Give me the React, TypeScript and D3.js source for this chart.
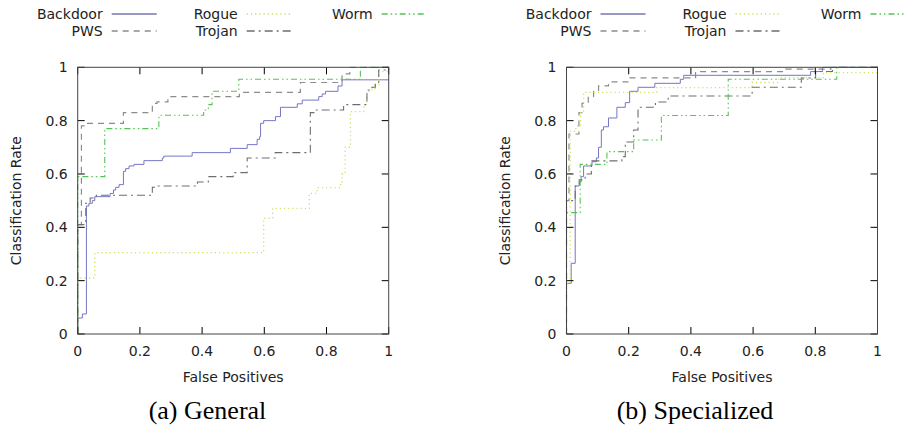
import React from 'react';
import * as d3 from 'd3';

type Pt = [number, number];

const seriesNames = ['Backdoor', 'PWS', 'Rogue', 'Trojan', 'Worm'];
const ticks = [0, 0.2, 0.4, 0.6, 0.8, 1];
const tickLabels = ['0', '0.2', '0.4', '0.6', '0.8', '1'];

// (a) General
const generalBackdoor: Pt[] = [[0, 0], [0, 0.06], [0.015, 0.075], [0.028, 0.48], [0.036, 0.49], [0.047, 0.5], [0.055, 0.515], [0.104, 0.527], [0.115, 0.54], [0.122, 0.55], [0.133, 0.56], [0.147, 0.61], [0.154, 0.62], [0.165, 0.63], [0.181, 0.636], [0.213, 0.65], [0.272, 0.66], [0.277, 0.667], [0.368, 0.68], [0.491, 0.696], [0.545, 0.71], [0.577, 0.73], [0.585, 0.74], [0.588, 0.79], [0.598, 0.8], [0.636, 0.815], [0.652, 0.85], [0.706, 0.863], [0.722, 0.877], [0.775, 0.89], [0.786, 0.9], [0.797, 0.91], [0.837, 0.93], [0.85, 0.953], [1, 0.953]];
const generalPWS: Pt[] = [[0, 0], [0, 0.41], [0.012, 0.78], [0.026, 0.79], [0.147, 0.83], [0.24, 0.865], [0.255, 0.87], [0.29, 0.89], [0.52, 0.906], [0.716, 0.943], [0.85, 0.975], [0.875, 1.0], [1, 1.0]];
const generalRogue: Pt[] = [[0, 0], [0, 0.21], [0.055, 0.305], [0.598, 0.434], [0.627, 0.471], [0.745, 0.5275], [0.77, 0.549], [0.845, 0.56], [0.85, 0.6], [0.86, 0.7], [0.877, 0.834], [0.92, 0.86], [0.93, 0.91], [0.946, 0.92], [0.957, 0.935], [0.968, 0.984], [1, 1.0]];
const generalTrojan: Pt[] = [[0, 0], [0, 0.41], [0.026, 0.49], [0.04, 0.51], [0.06, 0.52], [0.24, 0.55], [0.25, 0.555], [0.385, 0.57], [0.42, 0.59], [0.5, 0.605], [0.545, 0.66], [0.635, 0.68], [0.748, 0.83], [0.76, 0.84], [0.855, 0.86], [0.93, 0.915], [0.946, 0.925], [0.957, 0.94], [0.968, 0.99], [0.995, 1.0], [1, 1.0]];
const generalWorm: Pt[] = [[0, 0], [0, 0.59], [0.087, 0.77], [0.261, 0.82], [0.405, 0.84], [0.42, 0.86], [0.432, 0.91], [0.518, 0.955], [0.909, 1.0], [1, 1.0]];

// (b) Specialized
const specBackdoor: Pt[] = [[0, 0], [0, 0.19], [0.015, 0.265], [0.028, 0.555], [0.041, 0.57], [0.047, 0.59], [0.055, 0.63], [0.082, 0.646], [0.096, 0.66], [0.103, 0.7], [0.112, 0.765], [0.119, 0.777], [0.135, 0.81], [0.162, 0.85], [0.189, 0.8675], [0.203, 0.91], [0.23, 0.925], [0.284, 0.94], [0.366, 0.955], [0.377, 0.97], [0.785, 0.984], [0.823, 1.0], [1, 1.0]];
const specPWS: Pt[] = [[0, 0], [0, 0.5], [0.008, 0.75], [0.04, 0.83], [0.05, 0.865], [0.07, 0.89], [0.087, 0.91], [0.103, 0.93], [0.135, 0.945], [0.2, 0.96], [0.415, 0.984], [0.705, 0.993], [0.85, 1.0], [1, 1.0]];
const specRogue: Pt[] = [[0, 0], [0, 0.19], [0.012, 0.76], [0.03, 0.78], [0.045, 0.83], [0.055, 0.906], [0.29, 0.924], [0.597, 0.943], [0.681, 0.961], [0.826, 0.98], [1, 0.98]];
const specTrojan: Pt[] = [[0, 0], [0, 0.5], [0.028, 0.555], [0.041, 0.578], [0.06, 0.6], [0.08, 0.649], [0.178, 0.665], [0.189, 0.72], [0.216, 0.765], [0.23, 0.85], [0.286, 0.87], [0.327, 0.8925], [0.597, 0.925], [0.755, 0.96], [0.801, 0.984], [0.855, 1.0], [1, 1.0]];
const specWorm: Pt[] = [[0, 0], [0, 0.455], [0.044, 0.636], [0.13, 0.684], [0.216, 0.7275], [0.305, 0.819], [0.52, 0.955], [0.869, 1.0], [1, 1.0]];

const styles = [
  { plot: '#7676c6', legend: '#33338f', dash: null, w: 1 },
  { plot: '#8c8c8c', legend: '#8c8c8c', dash: '6,5', w: 1.2 },
  { plot: '#d2e060', legend: '#cfdc5a', dash: '1.2,3', w: 1.3 },
  { plot: '#6e6e6e', legend: '#6e6e6e', dash: '8,4,2,4', w: 1.1 },
  { plot: '#55c455', legend: '#55c455', dash: '6,3,1.5,3,1.5,3', w: 1.1 },
];

const font = '"DejaVu Sans", sans-serif';

function Panel({ x0, data, caption, captionX, id }: { x0: number; data: Pt[][]; caption: string; captionX: number; id: string }) {
  const x = d3.scaleLinear().domain([0, 1]).range([x0, x0 + 311]);
  const y = d3.scaleLinear().domain([0, 1]).range([334, 67.3]);
  const line = d3.line<Pt>().x(d => x(d[0])).y(d => y(d[1])).curve(d3.curveStepAfter);
  const legendCols = [x0 + 25, x0 + 160, x0 + 295];
  const tl = 7;
  return (
    <g>
      <defs>
        <clipPath id={id}>
          <rect x={x(0) - 1} y={y(1) - 1} width={x(1) - x(0) + 2} height={y(0) - y(1) + 2} />
        </clipPath>
      </defs>
      {/* legend */}
      {seriesNames.map((name, i) => {
        const col = Math.floor(i / 2);
        const row = i % 2;
        const tx = legendCols[col];
        const ty = row === 0 ? 14 : 31;
        const s = styles[i];
        return (
          <g key={name}>
            <text x={tx} y={ty} textAnchor="end" dominantBaseline="central" fontFamily={font} fontSize={14} fill="#222">{name}</text>
            <line x1={tx + 9} x2={tx + 54} y1={ty} y2={ty} stroke={s.legend} strokeWidth={s.w + 0.2} strokeDasharray={s.dash || undefined} />
          </g>
        );
      })}
      {/* series */}
      <g clipPath={`url(#${id})`}>
        {data.map((d, i) => (
          <path key={i} d={line(d) || ''} fill="none" stroke={styles[i].plot} strokeWidth={styles[i].w} strokeDasharray={styles[i].dash || undefined} />
        ))}
      </g>
      {/* ticks */}
      {ticks.map((t, i) => (
        <g key={'x' + i}>
          <line x1={x(t)} x2={x(t)} y1={y(0)} y2={y(0) - tl} stroke="#000" />
          <line x1={x(t)} x2={x(t)} y1={y(1)} y2={y(1) + tl} stroke="#000" />
          <text x={x(t)} y={351} textAnchor="middle" dominantBaseline="central" fontFamily={font} fontSize={14} fill="#222">{tickLabels[i]}</text>
        </g>
      ))}
      {ticks.map((t, i) => (
        <g key={'y' + i}>
          <line x1={x(0)} x2={x(0) + tl} y1={y(t)} y2={y(t)} stroke="#000" />
          <line x1={x(1)} x2={x(1) - tl} y1={y(t)} y2={y(t)} stroke="#000" />
          <text x={x(0) - 10} y={y(t)} textAnchor="end" dominantBaseline="central" fontFamily={font} fontSize={14} fill="#222">{tickLabels[i]}</text>
        </g>
      ))}
      <rect x={x(0)} y={y(1)} width={x(1) - x(0)} height={y(0) - y(1)} fill="none" stroke="#444" strokeWidth={1} />
      <text x={(x(0) + x(1)) / 2} y={377} textAnchor="middle" dominantBaseline="central" fontFamily={font} fontSize={14} fill="#222">False Positives</text>
      <text transform={`translate(${x0 - 62},${(y(0) + y(1)) / 2}) rotate(-90)`} textAnchor="middle" dominantBaseline="central" fontFamily={font} fontSize={14} fill="#222">Classification Rate</text>
      <text x={captionX} y={410} textAnchor="middle" dominantBaseline="central" fontFamily='"Liberation Serif", serif' fontSize={26} fill="#000">{caption}</text>
    </g>
  );
}

export default function App() {
  return (
    <svg width={904} height={426} style={{ position: 'absolute', left: 0, top: 0, background: '#fff' }}>
      <Panel x0={77.7} id="clipA" caption="(a) General" captionX={207.5}
        data={[generalBackdoor, generalPWS, generalRogue, generalTrojan, generalWorm]} />
      <Panel x0={566.5} id="clipB" caption="(b) Specialized" captionX={695}
        data={[specBackdoor, specPWS, specRogue, specTrojan, specWorm]} />
    </svg>
  );
}
